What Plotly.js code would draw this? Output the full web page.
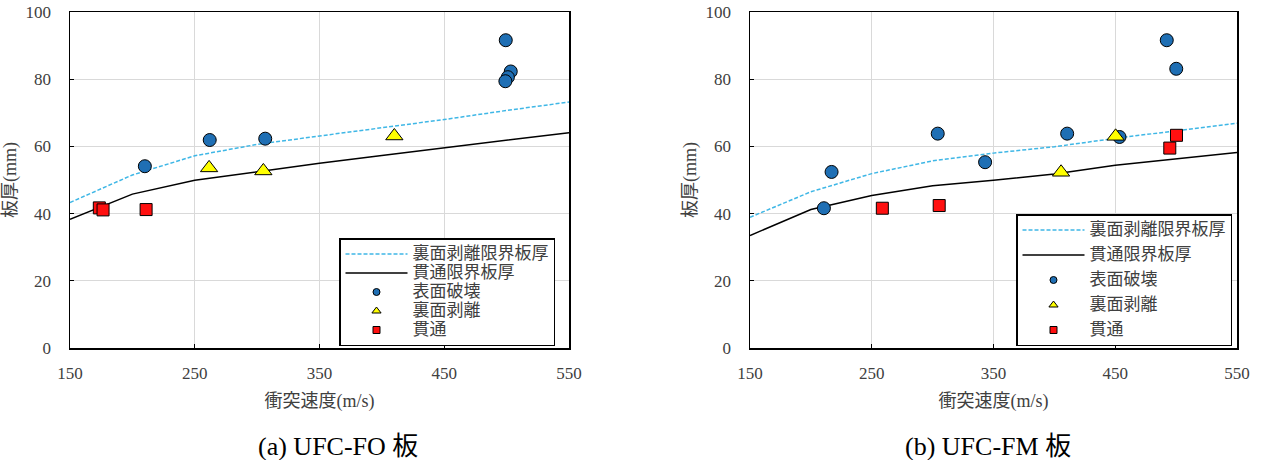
<!DOCTYPE html>
<html>
<head>
<meta charset="utf-8">
<script src="https://cdn.plot.ly/plotly-3.0.1.min.js"></script>
<style>
html,body{margin:0;padding:0;background:#fff;}
#chart{width:1264px;height:460px;}
</style>
</head>
<body>
<div id="chart"></div>
<script>
// ---- data ----
const curveSpeed = [150, 200, 250, 300, 350, 400, 450, 500, 550];

// (a) UFC-FO
const foSpallLimit = [43.3, 51.5, 57.2, 60.6, 63.1, 65.5, 68.0, 70.7, 73.2];
const foPerfLimit  = [38.3, 45.8, 49.9, 52.5, 55.0, 57.3, 59.6, 61.9, 64.1];
const foSurfX  = [210, 262, 306.5, 499.3, 503.3, 501, 499];
const foSurfY  = [54.1, 61.9, 62.3, 91.6, 82.3, 80.6, 79.4];
const foSpallX = [261.5, 305, 410];
const foSpallY = [53.6, 52.7, 63.1];
const foPerfX  = [173.5, 176.5, 211];
const foPerfY  = [41.7, 41.1, 41.2];

// (b) UFC-FM
const fmSpallLimit = [38.9, 46.5, 51.9, 55.7, 58.0, 59.9, 62.4, 64.6, 66.9];
const fmPerfLimit  = [33.5, 41.2, 45.4, 48.3, 49.9, 51.8, 54.4, 56.2, 58.2];
const fmSurfX  = [217, 210.7, 304.2, 343.1, 410.5, 453.5, 492.3, 500.1];
const fmSurfY  = [52.4, 41.6, 63.8, 55.3, 63.8, 62.8, 91.6, 83.1];
const fmSpallX = [405.5, 450.3];
const fmSpallY = [52.3, 63.0];
const fmPerfX  = [258.7, 305.4, 494.8, 500.3];
const fmPerfY  = [41.6, 42.4, 59.5, 63.3];

const legendNames = ['裏面剥離限界板厚', '貫通限界板厚', '表面破壊', '裏面剥離', '貫通'];
const captions = ['(a) UFC-FO 板', '(b) UFC-FM 板'];
const xTitle = '衝突速度(m/s)';
const yTitle = '板厚(mm)';

// ---- styles ----
const serif = '"Liberation Serif", "Times New Roman", "Noto Sans CJK JP", serif';
const cjk = '"Liberation Serif", "Noto Sans CJK JP", serif';
const textColor = '#404040';
const cyan = '#3fb7e6';
const blue = '#1f6fb4';
const yellow = '#ffff00';
const red = '#ff1010';

function legText(s) { return '<span style="font-size:17px">' + s + '</span>'; }

function panelTraces(xa, ya, leg, spall, perf, sx, sy, px, py, qx, qy) {
  const sfx = xa === 'x' ? '' : '2';
  const out = [];
  out.push({x: curveSpeed, y: spall, xaxis: xa, yaxis: ya, mode: 'lines', name: legText(legendNames[0]),
    line: {color: cyan, width: 1.5, dash: '4px,2px'}, legend: leg, legendgroup: 'g0' + sfx, hoverinfo: 'skip'});
  out.push({x: curveSpeed, y: perf, xaxis: xa, yaxis: ya, mode: 'lines', name: legText(legendNames[1]),
    line: {color: '#000', width: 1.5}, legend: leg, legendgroup: 'g1' + sfx, hoverinfo: 'skip'});
  const mk = [
    {x: sx, y: sy, sym: 'circle', color: blue, size: 13, lsize: 7},
    {x: px, y: py, sym: 'triangle-up', color: yellow, size: 15, lsize: 8},
    {x: qx, y: qy, sym: 'square', color: red, size: 12, lsize: 7}
  ];
  mk.forEach((m, i) => {
    out.push({x: m.x, y: m.y, xaxis: xa, yaxis: ya, mode: 'markers', showlegend: false,
      marker: {symbol: m.sym, color: m.color, size: m.size, line: {color: '#000', width: 1}}});
    // legend-only entry with small marker
    out.push({x: [null], y: [null], xaxis: xa, yaxis: ya, mode: 'markers', name: legText(legendNames[i + 2]),
      marker: {symbol: m.sym, color: m.color, size: m.lsize, line: {color: '#000', width: 1}},
      legend: leg, legendgroup: 'g' + (i + 2) + sfx});
  });
  return out;
}

const data = [].concat(
  panelTraces('x', 'y', 'legend', foSpallLimit, foPerfLimit, foSurfX, foSurfY, foSpallX, foSpallY, foPerfX, foPerfY),
  panelTraces('x2', 'y2', 'legend2', fmSpallLimit, fmPerfLimit, fmSurfX, fmSurfY, fmSpallX, fmSpallY, fmPerfX, fmPerfY)
);

const W = 1264, H = 460;
const yDom = [(H - 348) / H, (H - 12) / H];

function xAxis(dom, anchor) {
  return {
    domain: dom, anchor: anchor, range: [150, 550], tick0: 150, dtick: 100,
    showgrid: true, gridcolor: '#d9d9d9', gridwidth: 1, zeroline: false,
    showline: true, linecolor: '#000', linewidth: 1.5, mirror: true,
    ticks: 'inside', ticklen: 4, tickcolor: '#000', ticklabelstandoff: 9,
    tickfont: {family: serif, size: 17, color: textColor},
    title: {text: xTitle, font: {family: cjk, size: 18, color: textColor}, standoff: 12}
  };
}
function yAxis(anchor) {
  return {
    domain: yDom, anchor: anchor, range: [0, 100], dtick: 20,
    showgrid: true, gridcolor: '#d9d9d9', gridwidth: 1, zeroline: false,
    showline: true, linecolor: '#000', linewidth: 1.5, mirror: true,
    ticks: 'inside', ticklen: 4, tickcolor: '#000', ticklabelstandoff: 14,
    tickfont: {family: serif, size: 17, color: textColor},
    title: {text: yTitle, font: {family: cjk, size: 18, color: textColor}, standoff: 4}
  };
}

const legendBase = {
  bgcolor: '#fff', bordercolor: '#000', borderwidth: 1.5,
  font: {family: cjk, size: 12, color: textColor},
  xanchor: 'left', yanchor: 'top', itemwidth: 62, traceorder: 'grouped', itemclick: false
};

const layout = {
  width: W, height: H,
  margin: {l: 0, r: 0, t: 0, b: 0},
  paper_bgcolor: '#fff', plot_bgcolor: '#fff',
  showlegend: true,
  xaxis: xAxis([70 / W, 569 / W], 'y'),
  yaxis: yAxis('x'),
  xaxis2: xAxis([750 / W, 1237 / W], 'y2'),
  yaxis2: yAxis('x2'),
  legend: Object.assign({}, legendBase, {x: 339 / W, y: (H - 238) / H, tracegroupgap: 0}),
  legend2: Object.assign({}, legendBase, {x: 1016 / W, y: (H - 214) / H, tracegroupgap: 6}),
  annotations: [
    {text: captions[0], xref: 'paper', yref: 'paper', x: 338 / W, y: (H - 446) / H, xanchor: 'center', yanchor: 'middle',
      showarrow: false, font: {family: cjk, size: 26, color: '#000'}},
    {text: captions[1], xref: 'paper', yref: 'paper', x: 988 / W, y: (H - 446) / H, xanchor: 'center', yanchor: 'middle',
      showarrow: false, font: {family: cjk, size: 26, color: '#000'}}
  ]
};

Plotly.newPlot('chart', data, layout, {staticPlot: true, displayModeBar: false});
</script>
</body>
</html>
